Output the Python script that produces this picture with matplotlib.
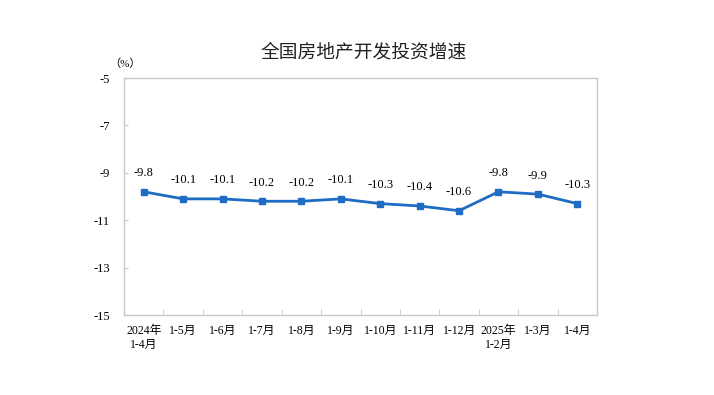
import matplotlib.pyplot as plt
import numpy as np

plt.rcParams['font.family'] = ['Liberation Serif', 'Noto Sans CJK SC']

# data
categories = ['2024年\n1-4月', '1-5月', '1-6月', '1-7月', '1-8月', '1-9月',
              '1-10月', '1-11月', '1-12月', '2025年\n1-2月', '1-3月', '1-4月']
growth = [-9.8, -10.1, -10.1, -10.2, -10.2, -10.1, -10.3, -10.4, -10.6, -9.8, -9.9, -10.3]
yticks = [-15, -13, -11, -9, -7, -5]

fig = plt.figure(figsize=(7.14, 3.95), dpi=100)
ax = fig.add_axes([0.1737, 0.2025, 0.6625, 0.6])

x = np.arange(len(categories))
ax.plot(x, growth, color='#1f6cc4', lw=2, marker='s', ms=4, zorder=3)
for xi, v in zip(x, growth):
    ax.annotate(f'{v:.1f}', (xi, v), xytext=(0, 9), textcoords='offset points',
                ha='center', va='bottom', fontsize=9)

ax.set_xlim(-0.5, len(categories) - 0.5)
ax.set_ylim(-15, -5)
ax.set_yticks(yticks)
ax.set_yticklabels([str(t) for t in yticks], fontsize=9)
ax.set_xticks(x)
ax.set_xticklabels(categories, fontsize=8.5, linespacing=1.2)
ax.set_xticks(np.arange(0.5, len(categories) - 1, 1), minor=True)
ax.tick_params(axis='x', which='major', length=0, pad=7)
ax.tick_params(axis='x', which='minor', direction='in', length=4, color='#c8c8c8')
ax.tick_params(axis='y', length=3, direction='in', color='#c8c8c8', pad=10)

for s in ax.spines.values():
    s.set_color('#c8c8c8')
    s.set_linewidth(1)

fig.text(0.175, 0.84, '（%）', fontsize=8, ha='center', va='center')
fig.text(0.51, 0.868, '全国房地产开发投资增速', fontsize=13.5, ha='center', va='center',
         family=['Noto Sans CJK SC'], weight='medium', color='#222222')

fig.savefig('out.png', dpi=100)
